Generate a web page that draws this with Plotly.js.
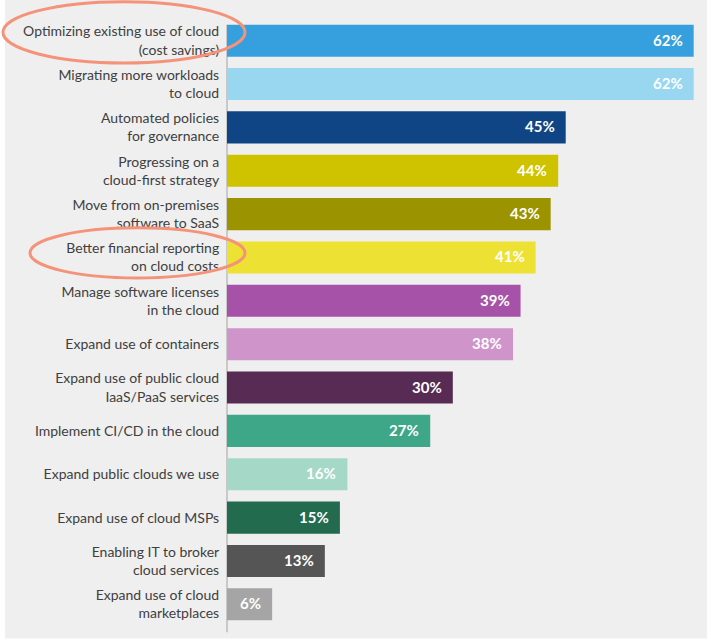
<!DOCTYPE html>
<html>
<head>
<meta charset="utf-8">
<script src="https://cdn.plot.ly/plotly-3.0.1.min.js"></script>
<style>html,body{margin:0;padding:0;background:#fff;}#chart{width:711px;height:644px;}</style>
</head>
<body>
<div id="chart"></div>
<script>
var categories = [
  "Optimizing existing use of cloud<br>(cost savings)",
  "Migrating more workloads<br>to cloud",
  "Automated policies<br>for governance",
  "Progressing on a<br>cloud-first strategy",
  "Move from on-premises<br>software to SaaS",
  "Better financial reporting<br>on cloud costs",
  "Manage software licenses<br>in the cloud",
  "Expand use of containers",
  "Expand use of public cloud<br>IaaS/PaaS services",
  "Implement CI/CD in the cloud",
  "Expand public clouds we use",
  "Expand use of cloud MSPs",
  "Enabling IT to broker<br>cloud services",
  "Expand use of cloud<br>marketplaces"
];
var values = [62, 62, 45, 44, 43, 41, 39, 38, 30, 27, 16, 15, 13, 6];
var barColors = ["#35a0dd", "#99d7f0", "#0f4584", "#cfc300", "#9b9300", "#ede233", "#a652a8",
                 "#cf95cb", "#572b53", "#3ea788", "#a6d8c8", "#226b4f", "#555555", "#a5a5a5"];
var valueLabels = values.map(function(v){ return v + "%"; });

var FONT = "Lato, 'Source Sans Pro', 'Noto Sans', sans-serif";

var trace = {
  type: "bar",
  orientation: "h",
  x: values,
  y: categories,
  marker: {color: barColors},
  hoverinfo: "none"
};

var annotations = values.map(function(v, i){
  return {
    x: v, y: categories[i], xref: "x", yref: "y",
    text: "<b>" + valueLabels[i] + "</b>",
    showarrow: false, xanchor: "right", xshift: -9, yshift: 1,
    font: {family: FONT, size: 15, color: "#ffffff"}
  };
});

var layout = {
  width: 711, height: 644,
  margin: {l: 227, r: 0, t: 19, b: 18, pad: 0},
  paper_bgcolor: "#ffffff",
  plot_bgcolor: "rgba(0,0,0,0)",
  showlegend: false,
  bargap: 0.26,
  xaxis: {range: [0, 64.3], showgrid: false, zeroline: false, showticklabels: false, showline: false, fixedrange: true},
  yaxis: {
    type: "category", autorange: "reversed",
    showgrid: false, zeroline: false, showline: false,
    ticks: "outside", ticklen: 4, tickcolor: "rgba(0,0,0,0)",
    tickfont: {family: FONT, size: 14, color: "#404040"}
  },
  font: {family: FONT},
  annotations: annotations,
  shapes: [
    {type: "rect", xref: "paper", yref: "paper", x0: -0.4587, x1: 0.9917, y0: -0.0204, y1: 1.0319,
     fillcolor: "#efefef", line: {width: 0}, layer: "below"},
    {type: "line", xref: "paper", yref: "paper", x0: 0, x1: 0, y0: -0.0105, y1: 0.9907,
     line: {color: "#bdbdbd", width: 1.5}, layer: "below"},
    {type: "circle", xref: "paper", yref: "paper", x0: -0.4628, x1: 0.0372, y0: 0.9276, y1: 1.0286,
     line: {color: "#f4937a", width: 3}, fillcolor: "rgba(0,0,0,0)", layer: "above"},
    {type: "circle", xref: "paper", yref: "paper", x0: -0.407, x1: 0.0372, y0: 0.5734, y1: 0.6559,
     line: {color: "#f4937a", width: 3}, fillcolor: "rgba(0,0,0,0)", layer: "above"}
  ]
};

Plotly.newPlot("chart", [trace], layout, {displayModeBar: false, staticPlot: true});
</script>
</body>
</html>
